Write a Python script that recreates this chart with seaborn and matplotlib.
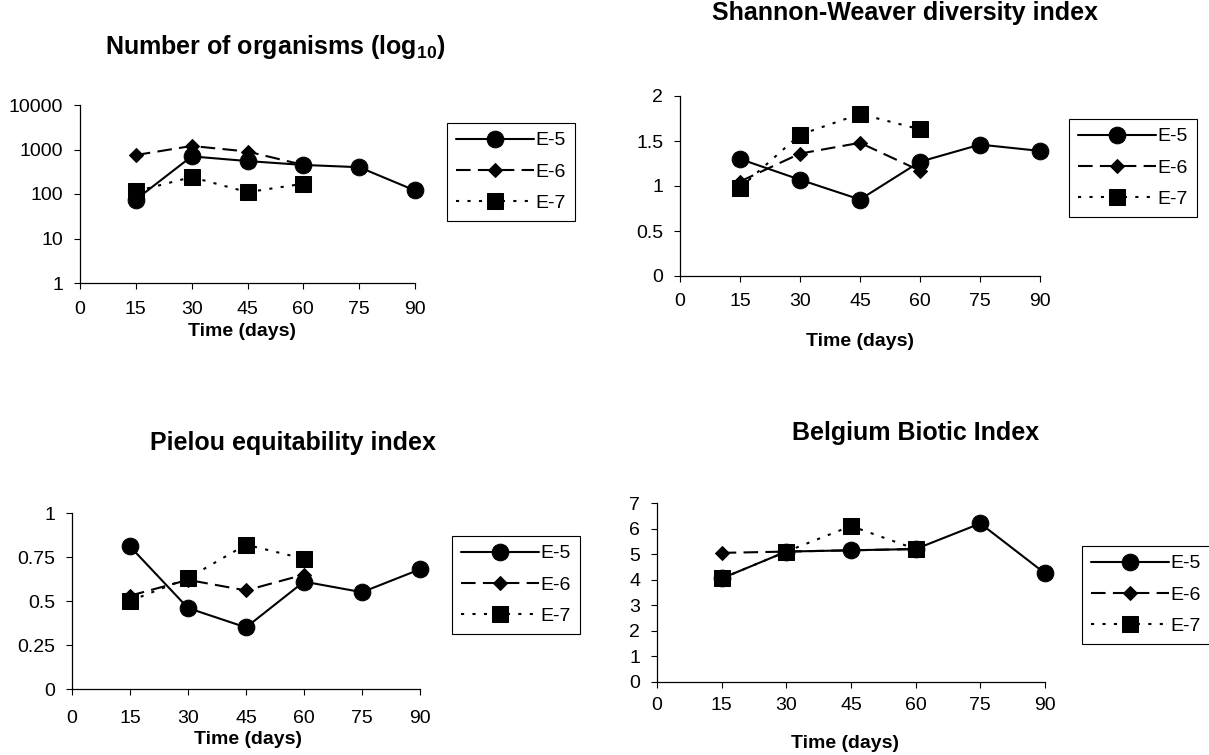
import matplotlib
matplotlib.use("Agg")
import numpy as np
import pandas as pd
import matplotlib.pyplot as plt
import seaborn as sns

# --- data ---
days = [15, 30, 45, 60, 75, 90]
days_short = [15, 30, 45, 60]

organisms_e5 = [75, 700, 550, 450, 400, 120]
organisms_e6 = [750, 1200, 900, 450]
organisms_e7 = [115, 240, 110, 170]

shannon_e5 = [1.30, 1.07, 0.85, 1.27, 1.46, 1.39]
shannon_e6 = [1.05, 1.36, 1.48, 1.17]
shannon_e7 = [0.98, 1.57, 1.80, 1.63]

pielou_e5 = [0.81, 0.46, 0.35, 0.61, 0.55, 0.68]
pielou_e6 = [0.53, 0.62, 0.56, 0.65]
pielou_e7 = [0.50, 0.63, 0.82, 0.74]

bbi_e5 = [4.05, 5.10, 5.15, 5.20, 6.20, 4.25]
bbi_e6 = [5.05, 5.10, 5.15, 5.20]
bbi_e7 = [4.05, 5.10, 6.10, 5.20]

series_names = ["E-5", "E-6", "E-7"]
x_ticks = [0, 15, 30, 45, 60, 75, 90]

# --- style ---
sns.set_style("ticks")
plt.rcParams["font.family"] = ["Liberation Sans", "DejaVu Sans"]
plt.rcParams["text.color"] = "black"
plt.rcParams["axes.labelcolor"] = "black"
plt.rcParams["mathtext.fontset"] = "custom"
plt.rcParams["mathtext.rm"] = "Liberation Sans"
plt.rcParams["mathtext.bf"] = "Liberation Sans:bold"

MARKERS = {"E-5": "o", "E-6": "D", "E-7": "s"}
DASHES = {"E-5": "", "E-6": (7, 3.5), "E-7": (1.5, 4)}
MSIZE = {"o": 12, "D": 7.5, "s": 11}

W, H = 1209, 755
fig = plt.figure(figsize=(W / 100, H / 100), dpi=100)


def long_frame(e5, e6, e7):
    parts = [
        pd.DataFrame({"day": days, "value": e5, "series": "E-5"}),
        pd.DataFrame({"day": days_short, "value": e6, "series": "E-6"}),
        pd.DataFrame({"day": days_short, "value": e7, "series": "E-7"}),
    ]
    return pd.concat(parts, ignore_index=True)


def draw_panel(box, title, title_xy, label_xy, legend_xy, e5, e6, e7,
               yticks, ylim, log=False, xpad=8):
    left, top, right, bottom = box
    ax = fig.add_axes([left / W, 1 - bottom / H, (right - left) / W, (bottom - top) / H])
    df = long_frame(e5, e6, e7)
    sns.lineplot(data=df, x="day", y="value", style="series",
                 style_order=series_names, markers=MARKERS, dashes=DASHES,
                 color="black", linewidth=1.5, markeredgecolor="black",
                 ax=ax, legend=True, clip_on=False)
    for ln in ax.lines:
        ln.set_markersize(MSIZE.get(ln.get_marker(), 10))

    if log:
        ax.set_yscale("log")
        ax.minorticks_off()
    ax.set_ylim(*ylim)
    ax.set_yticks(yticks)
    ax.set_yticklabels([f"{v:g}" for v in yticks])
    ax.set_xlim(0, 90)
    ax.set_xticks(x_ticks)
    ax.set_xticklabels([str(v) for v in x_ticks])

    sns.despine(ax=ax)
    for sp in ("left", "bottom"):
        ax.spines[sp].set_linewidth(0.9)
        ax.spines[sp].set_color("black")
    ax.tick_params(axis="both", direction="out", length=4, width=0.8,
                   labelsize=14, colors="black")
    ax.tick_params(axis="x", pad=xpad)
    ax.tick_params(axis="y", pad=8)

    ax.set_ylabel("")
    ax.set_xlabel("Time (days)", fontsize=14, fontweight="bold")
    ax.xaxis.set_label_coords(label_xy[0] / W, 1 - label_xy[1] / H,
                              transform=fig.transFigure)
    ax.xaxis.label.set_va("center")

    fig.text(title_xy[0] / W, 1 - title_xy[1] / H, title, ha="center",
             va="center", fontsize=18, fontweight="bold")

    old = ax.get_legend()
    handles = list(old.legend_handles)
    labels = [t.get_text() for t in old.get_texts()]
    old.remove()
    for h in handles:
        h.set_color("black")
        h.set_markeredgecolor("black")
        h.set_markerfacecolor("black")
        h.set_markersize(MSIZE.get(h.get_marker(), 10))
        h.set_linewidth(1.5)
    leg = ax.legend(handles, labels, loc="upper left",
                    bbox_to_anchor=(legend_xy[0] / W, 1 - legend_xy[1] / H),
                    bbox_transform=fig.transFigure, borderaxespad=0,
                    fontsize=14, frameon=True, fancybox=False, framealpha=1,
                    handlelength=4.0, handletextpad=0.1, labelspacing=0.7,
                    borderpad=0.45)
    leg.get_frame().set_edgecolor("black")
    leg.get_frame().set_linewidth(0.8)
    return ax


draw_panel((80, 105, 415, 283), r"Number of organisms (log$_{\mathbf{10}}$)",
           (275, 47), (242, 331), (447, 123),
           organisms_e5, organisms_e6, organisms_e7,
           [1, 10, 100, 1000, 10000], (1, 10000), log=True, xpad=9)

draw_panel((680, 96, 1040, 276), "Shannon-Weaver diversity index",
           (905, 13), (860, 342), (1069, 119),
           shannon_e5, shannon_e6, shannon_e7,
           [0, 0.5, 1, 1.5, 2], (0, 2), xpad=8)

draw_panel((72, 513, 420, 689), "Pielou equitability index",
           (293, 443), (248, 740), (452, 536),
           pielou_e5, pielou_e6, pielou_e7,
           [0, 0.25, 0.5, 0.75, 1], (0, 1), xpad=11)

draw_panel((657, 503, 1045, 682), "Belgium Biotic Index",
           (916, 433), (845, 743), (1082, 546),
           bbi_e5, bbi_e6, bbi_e7,
           [0, 1, 2, 3, 4, 5, 6, 7], (0, 7), xpad=7)

fig.savefig("out.png", dpi=100)
